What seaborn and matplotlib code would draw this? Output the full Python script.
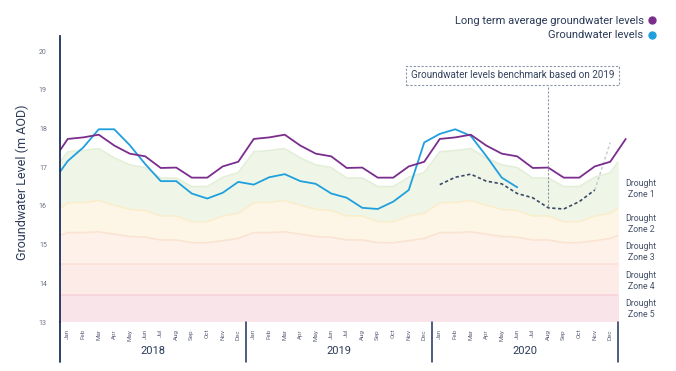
import numpy as np
import pandas as pd
import seaborn as sns
import matplotlib.pyplot as plt
from matplotlib.lines import Line2D
from matplotlib.patches import Rectangle

sns.set_style("white")
plt.rcParams['font.family'] = ['Roboto', 'DejaVu Sans']

months = ['Jan', 'Feb', 'Mar', 'Apr', 'May', 'Jun', 'Jul', 'Aug', 'Sep', 'Oct', 'Nov', 'Dec']
years = ['2018', '2019', '2020']

# long term average and drought zone tops repeat every year (m AOD)
avg_monthly = [17.73, 17.77, 17.84, 17.56, 17.35, 17.28, 16.98, 16.99, 16.73, 16.73, 17.02, 17.14]
zone1_top = [17.40, 17.43, 17.48, 17.24, 17.06, 16.99, 16.72, 16.72, 16.50, 16.50, 16.74, 16.86]
zone2_top = [16.08, 16.09, 16.14, 16.02, 15.91, 15.88, 15.74, 15.74, 15.59, 15.59, 15.74, 15.81]
zone3_top = [15.31, 15.31, 15.33, 15.27, 15.21, 15.19, 15.12, 15.12, 15.05, 15.05, 15.10, 15.16]
zone4_top = 14.5
zone5_top = 13.7
bottom = 13.0

gw_dec2017 = 16.60
gw_2018 = [17.16, 17.51, 17.98, 17.98, 17.57, 17.08, 16.64, 16.64, 16.32, 16.19, 16.34, 16.62]
gw_2019 = [16.55, 16.74, 16.82, 16.64, 16.57, 16.32, 16.21, 15.95, 15.92, 16.11, 16.41, 17.64]
gw_2020 = [17.86, 17.98, 17.81, 17.29, 16.73, 16.48]

zone_labels = ['Drought\nZone 1', 'Drought\nZone 2', 'Drought\nZone 3', 'Drought\nZone 4', 'Drought\nZone 5']
zone_label_y = [16.44, 15.53, 14.81, 14.06, 13.34]


def three_years(pattern):
    # Dec 2017 ... Jan 2021 so the lines run off the edges
    return pattern[-1:] + pattern * 3 + pattern[:1]


x_all = np.arange(38) - 0.5
avg = three_years(avg_monthly)
z1 = np.array(three_years(zone1_top))
z2 = np.array(three_years(zone2_top))
z3 = np.array(three_years(zone3_top))

gw = [gw_dec2017] + gw_2018 + gw_2019 + gw_2020
x_gw = x_all[:len(gw)]

x_bench = np.arange(24, 36) + 0.5

fig = plt.figure(figsize=(6.76, 3.71), dpi=100)
ax = fig.add_axes([60 / 676, 49 / 371, 558 / 676, 286 / 371])

# drought zones
ax.fill_between(x_all, bottom, zone5_top, color='#f9e4ea', lw=0)
ax.fill_between(x_all, zone5_top, zone4_top, color='#fdebe7', lw=0)
ax.fill_between(x_all, zone4_top, z3, color='#fdf1e9', lw=0)
ax.fill_between(x_all, z3, z2, color='#fdf6e6', lw=0)
ax.fill_between(x_all, z2, z1, color='#eff6e8', lw=0)
ax.axhline(zone5_top, color='#f7d3db', lw=1.2)
ax.axhline(zone4_top, color='#fcdfd5', lw=1.2)
ax.plot(x_all, z3, color='#fbe3d2', lw=1.2)
ax.plot(x_all, z2, color='#faedcc', lw=1.2)
ax.plot(x_all, z1, color='#e3efd8', lw=1.2)

df_avg = pd.DataFrame({'x': x_all, 'level': avg})
df_gw = pd.DataFrame({'x': x_gw, 'level': gw})
df_bench = pd.DataFrame({'x': x_bench, 'level': gw_2019})

sns.lineplot(data=df_bench.iloc[-2:], x='x', y='level', ax=ax, color='#c9cdd6',
             linestyle=(0, (2, 1.5)), lw=1.1)
sns.lineplot(data=df_bench.iloc[:-1], x='x', y='level', ax=ax, color='#3c4a68',
             linestyle=(0, (2, 1.5)), lw=1.2)
sns.lineplot(data=df_gw, x='x', y='level', ax=ax, color='#1fa0dd', lw=1.3)
sns.lineplot(data=df_avg, x='x', y='level', ax=ax, color='#7b2d8e', lw=1.3)
ax.lines[-1].set_clip_path(Rectangle((0, 0), 1.03, 1, transform=ax.transAxes))

# benchmark annotation
ax.text(29.2, 19.38, 'Groundwater levels benchmark based on 2019', ha='center', va='center',
        fontsize=7.1, color='#34425f',
        bbox=dict(boxstyle='square,pad=0.45', fc='white', ec='#8d95a8', ls=(0, (2, 1.5)), lw=0.8))
ax.vlines(31.5, gw_2019[7] + 0.06, 19.18, color='#8d95a8', lw=0.8, linestyles=(0, (2, 1.5)))

ax.set_xlim(0, 36)
ax.set_ylim(13, 20.39)

# y axis
ax.set_yticks(range(13, 21))
ax.tick_params(axis='y', length=5.5, width=1.2, color='#8790a3', labelsize=5, labelcolor='#6b7284', pad=4)
ax.set_ylabel('Groundwater Level (m AOD)', fontsize=9, color='#2b3a58')
ax.yaxis.set_label_coords(-0.056, 0.49)

# x axis: month ticks at boundaries, labels centred in each month
ax.set_xticks(np.arange(37))
ax.set_xticklabels([])
ax.set_xticks(np.arange(36) + 0.5, minor=True)
ax.set_xticklabels(months * 3, minor=True, rotation=90)
ax.tick_params(axis='x', which='major', length=4.5, width=0.9, color='#3a4866')
ax.tick_params(axis='x', which='minor', length=0, pad=5, labelsize=4.5, labelcolor='#5c6479')
ax.set_xlabel('')

for s in ['top', 'right', 'bottom']:
    ax.spines[s].set_visible(False)
ax.spines['left'].set_color('#1d2f5e')
ax.spines['left'].set_linewidth(1.3)

xt = ax.get_xaxis_transform()
for i in range(4):
    ax.plot([i * 12, i * 12], [0, -0.14], transform=xt, color='#1d2f5e', lw=1.1 if i else 1.3,
            clip_on=False)
for i, yr in enumerate(years):
    ax.text(i * 12 + 6, -0.10, yr, transform=xt, ha='center', va='center', fontsize=8, color='#2b3a58')

for lab, yv in zip(zone_labels, zone_label_y):
    ax.text(37.5, yv, lab, ha='center', va='center', fontsize=6.3, color='#46526a',
            linespacing=1.3, clip_on=False)

handles = [Line2D([], [], marker='o', ls='', color='#7b2d8e', markersize=5),
           Line2D([], [], marker='o', ls='', color='#1fa0dd', markersize=5)]
ax.legend(handles, ['Long term average groundwater levels', 'Groundwater levels'],
          loc='upper right', bbox_to_anchor=(658 / 676, 1 - 16 / 371), bbox_transform=fig.transFigure,
          frameon=False, markerfirst=False, handletextpad=0.3, handlelength=1.0, fontsize=8,
          labelspacing=0.4, borderaxespad=0, borderpad=0, labelcolor='#2b3a58')

fig.savefig('out.png', dpi=100)
